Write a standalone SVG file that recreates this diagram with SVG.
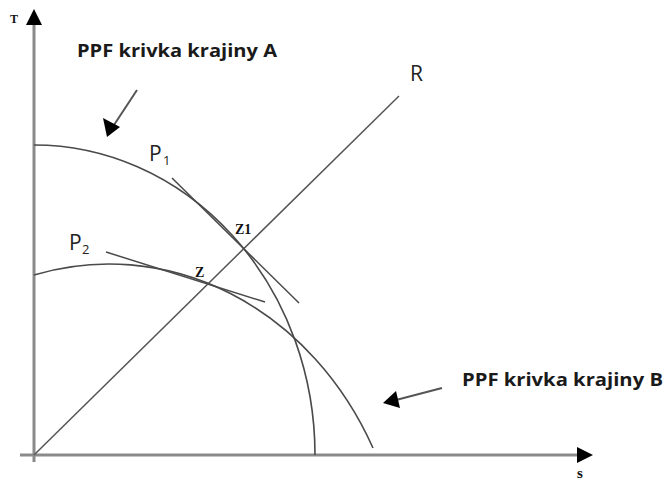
<svg xmlns="http://www.w3.org/2000/svg" width="665" height="480" viewBox="0 0 665 480">
<style>
.axis{stroke:#8a8a8a;stroke-width:3;fill:none}
.curve{stroke:#4a4a4a;stroke-width:1.6;fill:none}
.tan{stroke:#4a4a4a;stroke-width:1.5;fill:none}
.ray{stroke:#555;stroke-width:1.5;fill:none}
.ann{stroke:#555;stroke-width:2;fill:none}
.lbl{font-family:"Open Sans","Liberation Sans",sans-serif;font-weight:bold;font-size:18px;fill:#1a1a1a}
.sym{font-family:"Open Sans","Liberation Sans",sans-serif;font-size:21px;fill:#222}
.sub{font-family:"Open Sans","Liberation Sans",sans-serif;font-size:13px;fill:#222}
.ser{font-family:"Liberation Serif",serif;font-weight:bold;fill:#111}
</style>
<g id="axes">
<line class="axis" x1="34" y1="462" x2="34" y2="24"/>
<polygon points="34,9 26,25 42,25" fill="#000"/>
<line class="axis" x1="20" y1="455" x2="578" y2="455"/>
<polygon points="593,455 577,447 577,463" fill="#000"/>
<text class="ser" x="10" y="23" font-size="12">T</text>
<text class="ser" x="577" y="478" font-size="15">s</text>
</g>
<g id="curveA"><path class="curve" d="M34,145 A281,310 0 0 1 315,455"/></g>
<g id="curveB"><path class="curve" d="M34,275 A296,336 0 0 1 373,448"/></g>
<g id="rayR"><line class="ray" x1="34" y1="455" x2="399" y2="96"/><text class="sym" x="410" y="81">R</text></g>
<g id="tangentP1"><line class="tan" x1="172" y1="178" x2="299" y2="303"/><text class="sym" x="149" y="161">P</text><text class="sub" x="163" y="165">1</text></g>
<g id="tangentP2"><line class="tan" x1="106" y1="252" x2="265" y2="302"/><text class="sym" x="69" y="250">P</text><text class="sub" x="82" y="254">2</text></g>
<g id="pointZ1"><text class="ser" x="235" y="234" font-size="14">Z1</text></g>
<g id="pointZ"><text class="ser" x="195" y="277" font-size="14">Z</text></g>
<g id="labelA"><text class="lbl" x="77" y="57" textLength="200" lengthAdjust="spacingAndGlyphs">PPF krivka krajiny A</text></g>
<g id="labelB"><text class="lbl" x="462" y="386" textLength="201" lengthAdjust="spacingAndGlyphs">PPF krivka krajiny B</text></g>
<g id="connectors">
<line class="ann" x1="137" y1="90" x2="112" y2="128"/>
<polygon points="107,137 103,118 120,127" fill="#000"/>
<line class="ann" x1="442" y1="388" x2="396" y2="400"/>
<polygon points="383,403 396,391 400,408" fill="#000"/>
</g>
</svg>
